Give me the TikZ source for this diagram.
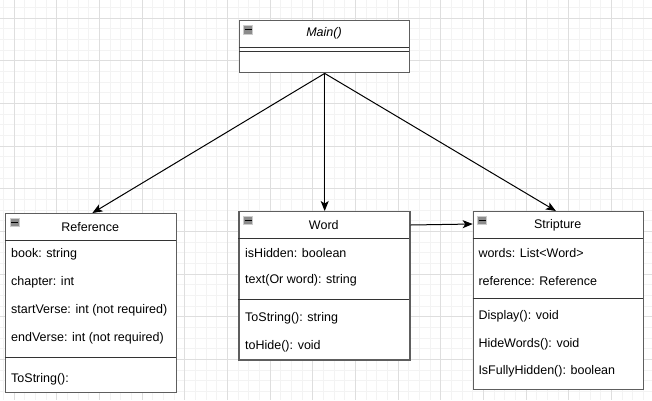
\documentclass[tikz,border=0pt]{standalone}
\usepackage{fontspec}
\setmainfont{Liberation Sans}
\usetikzlibrary{arrows.meta,calc}
\definecolor{boxc}{HTML}{5E5E5E}
\definecolor{linec}{HTML}{333333}
\definecolor{gridmaj}{HTML}{DEDEDE}
\definecolor{gridmin}{HTML}{F3F3F3}
\definecolor{iconfill}{HTML}{8C8C8C}
\begin{document}
\begin{tikzpicture}[x=1pt,y=-1pt,
  umlbox/.style={draw=boxc,line width=1.4pt,fill=white,rectangle,inner sep=0pt,anchor=north west},
  sep/.style={draw=linec,line width=1pt},
  txt/.style={anchor=west,inner sep=0pt,font=\fontsize{12.5}{14}\selectfont,text=black},
  ttl/.style={inner sep=0pt,font=\fontsize{12.5}{14}\selectfont,text=black},
  conn/.style={draw=black,line width=1pt,-{Stealth[length=10pt,width=8pt,inset=2.5pt]}},
  icon/.style={fill=iconfill,draw=gray!40,line width=0.6pt}
]
\useasboundingbox (0,0) rectangle (652,400);
\fill[white] (0,0) rectangle (652,400);
% grid
\foreach \i in {0,...,61}{
  \draw[gridmin,line width=0.5pt] ({3.33+10.667*\i},0) -- ({3.33+10.667*\i},400);
}
\foreach \i in {0,...,37}{
  \draw[gridmin,line width=0.5pt] (0,{7.33+10.667*\i}) -- (652,{7.33+10.667*\i});
}
\foreach \i in {0,...,15}{
  \draw[gridmaj,line width=0.8pt] ({14+42.667*\i},0) -- ({14+42.667*\i},400);
}
\foreach \i in {0,...,9}{
  \draw[gridmaj,line width=0.8pt] (0,{18+42.667*\i}) -- (652,{18+42.667*\i});
}

% Main
\node[umlbox,minimum width=170pt,minimum height=52.5pt] (main) at (239,19.5) {};
\draw[sep] (239,47) -- (409,47);
\draw[sep] (239,51.3) -- (409,51.3);
\node[ttl,font=\fontsize{12.5}{14}\selectfont\itshape] (maint) at (324,33.3) {Main()};
\draw[icon] (243.5,25.5) rectangle (252.5,34);
\draw[black,line width=0.9pt] (244.5,29.8) -- (251.5,29.8);

% Reference
\node[umlbox,minimum width=171pt,minimum height=178.7pt] (ref) at (4.7,213) {};
\draw[sep] (4.7,240.7) -- (175.7,240.7);
\draw[sep] (4.7,357.3) -- (175.7,357.3);
\node[ttl] (reft) at (90.2,226.7) {Reference};
\draw[icon] (10,218) rectangle (19,226.5);
\draw[black,line width=0.9pt] (11,222.3) -- (18,222.3);
\node[txt] (r1) at (11,254.3) {book: string};
\node[txt] (r2) at (11,282.3) {chapter: int};
\node[txt] (r3) at (11,310.3) {startVerse: int (not required)};
\node[txt] (r4) at (11,338.3) {endVerse: int (not required)};
\node[txt] (r5) at (11,379) {ToString():};

% Word
\node[umlbox,minimum width=171pt,minimum height=148.3pt] (word) at (238.3,211) {};
\draw[sep] (238.3,238.3) -- (409.3,238.3);
\draw[sep] (238.3,299) -- (409.3,299);
\node[ttl] (wordt) at (323.8,225) {Word};
\draw[icon] (243.5,216) rectangle (252.5,224.5);
\draw[black,line width=0.9pt] (244.5,220.3) -- (251.5,220.3);
\node[txt] (w1) at (245,252.7) {isHidden: boolean};
\node[txt] (w2) at (245,280.7) {text(Or word): string};
\node[txt] (w3) at (245,318.7) {ToString(): string};
\node[txt] (w4) at (245,346.7) {toHide(): void};

% Stripture
\node[umlbox,minimum width=170pt,minimum height=178pt] (strip) at (472.7,211) {};
\draw[sep] (472.7,238.3) -- (642.7,238.3);
\draw[sep] (472.7,298.3) -- (642.7,298.3);
\node[ttl] (stript) at (557.7,225) {Stripture};
\draw[icon] (477.5,216) rectangle (486.5,224.5);
\draw[black,line width=0.9pt] (478.5,220.3) -- (485.5,220.3);
\node[txt] (s1) at (478.3,252.7) {words: List<Word>};
\node[txt] (s2) at (478.3,280.7) {reference: Reference};
\node[txt] (s3) at (478.3,316.7) {Display(): void};
\node[txt] (s4) at (478.3,344.7) {HideWords(): void};
\node[txt] (s5) at (478.3,371.7) {IsFullyHidden(): boolean};

% connectors
\coordinate (mainb) at (main.south);
\draw[conn] (mainb) -- ($(ref.north)+(1.5,0)$);
\draw[conn] (mainb) -- (word.north -| mainb);
\draw[conn] (mainb) -- ($(strip.north)+(-2.5,0)$);
\draw[conn] (word.east |- wordt) -- ($(strip.west |- stript)+(0,-1)$);
\end{tikzpicture}
\end{document}
